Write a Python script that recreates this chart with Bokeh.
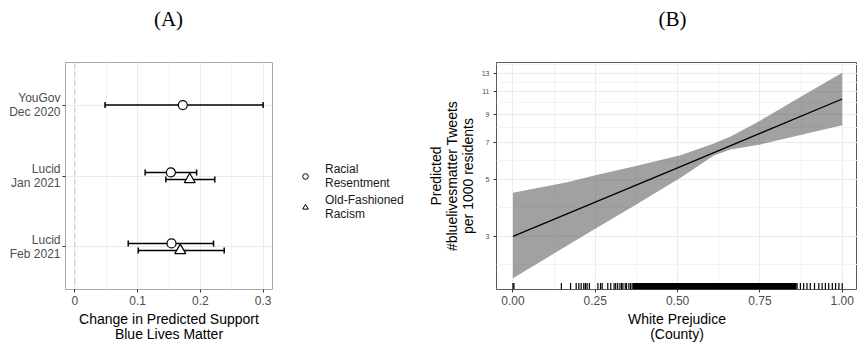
import math
from bokeh.plotting import figure
from bokeh.layouts import row, column
from bokeh.models import (ColumnDataSource, FixedTicker, Whisker, TeeHead, Span,
                          Legend, LegendItem, Label, Range1d)
from bokeh.embed import file_html
from bokeh.resources import INLINE

# ---------------- Panel A data ----------------
surveys = ["YouGov\nDec 2020", "Lucid\nJan 2021", "Lucid\nFeb 2021"]
survey_pos = [3, 2, 1]
rr_survey = ["YouGov\nDec 2020", "Lucid\nJan 2021", "Lucid\nFeb 2021"]
rr_est = [0.172, 0.153, 0.154]
rr_lo = [0.048, 0.112, 0.085]
rr_hi = [0.300, 0.194, 0.221]
ofr_survey = ["Lucid\nJan 2021", "Lucid\nFeb 2021"]
ofr_est = [0.183, 0.168]
ofr_lo = [0.145, 0.101]
ofr_hi = [0.223, 0.238]
a_xticks = [0.0, 0.1, 0.2, 0.3]
a_xminor = [0.05, 0.15, 0.25]

# ---------------- Panel B data ----------------
fit_x = [0.0, 0.25, 0.5, 0.75, 1.0]
fit_y = [3.0, 4.08, 5.55, 7.56, 10.3]
band_x = [0.0, 0.165, 0.25, 0.367, 0.509, 0.61, 0.661, 0.752, 0.873, 1.0]
band_hi = [4.44, 4.88, 5.19, 5.62, 6.21, 6.9, 7.36, 8.5, 10.48, 13.05]
band_lo = [2.06, 2.76, 3.21, 3.94, 5.08, 6.2, 6.55, 6.85, 7.45, 8.13]
b_yticks = [3, 5, 7, 9, 11, 13]
b_yminor = [2.32, 3.87, 5.92, 7.94, 9.95, 11.96, 14.1]
b_xticks = [0.0, 0.25, 0.5, 0.75, 1.0]
b_xminor = [0.125, 0.375, 0.625, 0.875]
rug_sparse = [0.0, 0.003, 0.147, 0.175, 0.192, 0.2, 0.207, 0.215, 0.22, 0.225, 0.232,
              0.258, 0.266, 0.271, 0.288, 0.297, 0.307, 0.312, 0.318, 0.325, 0.33,
              0.334, 0.341, 0.345, 0.352, 0.357, 0.362, 0.366,
              0.863, 0.873, 0.883, 0.893, 0.903, 0.916, 0.929, 0.939, 0.949, 0.959,
              0.97, 0.98, 0.99, 1.0]
rug_dense = [0.370, 0.374, 0.377, 0.381, 0.385, 0.389, 0.392, 0.396, 0.400, 0.404, 0.407,
             0.411, 0.415, 0.419, 0.422, 0.426, 0.430, 0.434, 0.437, 0.441, 0.445, 0.449,
             0.452, 0.456, 0.460, 0.464, 0.467, 0.471, 0.475, 0.479, 0.482, 0.486, 0.490,
             0.494, 0.497, 0.501, 0.505, 0.509, 0.512, 0.516, 0.520, 0.524, 0.527, 0.531,
             0.535, 0.539, 0.542, 0.546, 0.550, 0.554, 0.557, 0.561, 0.565, 0.569, 0.572,
             0.576, 0.580, 0.584, 0.587, 0.591, 0.595, 0.599, 0.602, 0.606, 0.610, 0.614,
             0.617, 0.621, 0.625, 0.629, 0.632, 0.636, 0.640, 0.644, 0.647, 0.651, 0.655,
             0.659, 0.662, 0.666, 0.670, 0.674, 0.677, 0.681, 0.685, 0.689, 0.692, 0.696,
             0.700, 0.704, 0.707, 0.711, 0.715, 0.719, 0.722, 0.726, 0.730, 0.734, 0.737,
             0.741, 0.745, 0.749, 0.752, 0.756, 0.760, 0.764, 0.767, 0.771, 0.775, 0.779,
             0.782, 0.786, 0.790, 0.794, 0.797, 0.801, 0.805, 0.809, 0.812, 0.816, 0.820,
             0.824, 0.827, 0.831, 0.835, 0.839, 0.842, 0.846, 0.850, 0.854, 0.858]
panel_titles = ["(A)", "(B)"]
legend_labels = ["Racial\nResentment", "Old-Fashioned\nRacism"]

FONT = "Liberation Sans"
TICK_COL = "#4D4D4D"
HEAD_H = 36
H = 310
TOP = 26
BOTTOM = 57
NAN = float("nan")


def style_axis(ax, tick_size):
    ax.axis_line_color = None
    ax.major_tick_line_color = "#333333"
    ax.major_tick_in = 0
    ax.major_tick_out = 3
    ax.minor_tick_line_color = None
    ax.major_label_text_font = FONT
    ax.major_label_text_font_size = tick_size
    ax.major_label_text_color = TICK_COL
    ax.major_label_standoff = 2
    ax.axis_label_text_font = FONT
    ax.axis_label_text_font_size = "14px"
    ax.axis_label_text_font_style = "normal"
    ax.axis_label_text_color = "#000000"
    ax.axis_label_text_line_height = 0.95
    ax.axis_label_standoff = 3


def blank(width, height):
    f = figure(width=width, height=height, output_backend="svg", toolbar_location=None,
               x_range=Range1d(0, width), y_range=Range1d(0, height),
               x_axis_location=None, y_axis_location=None,
               min_border=0, min_border_left=0, min_border_right=0,
               min_border_top=0, min_border_bottom=0)
    f.outline_line_color = None
    f.xgrid.visible = False
    f.ygrid.visible = False
    return f


# ================= Header with panel titles =================
head = blank(857, HEAD_H)
for txt, cx in zip(panel_titles, [168, 672]):
    head.add_layout(Label(x=cx, y=HEAD_H / 2, text=txt, text_align="center",
                          text_baseline="middle", text_font="Liberation Serif",
                          text_font_size="21px", text_color="black"))

# ================= Panel A =================
pos = dict(zip(surveys, survey_pos))
dodge = 0.05
rr_y = [pos[s] + (dodge if s in ofr_survey else 0) for s in rr_survey]
ofr_y = [pos[s] - dodge for s in ofr_survey]

fA = figure(width=280, height=H, output_backend="svg", toolbar_location=None,
            x_range=Range1d(-0.015, 0.315), y_range=Range1d(0.4, 3.6),
            min_border_left=65, min_border_right=8, min_border_top=TOP,
            min_border_bottom=BOTTOM)
fA.outline_line_color = "#A6A6A6"
fA.xaxis.ticker = FixedTicker(ticks=a_xticks, minor_ticks=a_xminor)
fA.yaxis.ticker = FixedTicker(ticks=survey_pos)
fA.yaxis.major_label_overrides = {p: s for s, p in zip(surveys, survey_pos)}
fA.xgrid.grid_line_color = "#EBEBEB"
fA.xgrid.minor_grid_line_color = "#F3F3F3"
fA.ygrid.grid_line_color = "#EBEBEB"
style_axis(fA.xaxis[0], "12px")
style_axis(fA.yaxis[0], "12px")
fA.yaxis.major_label_text_line_height = 0.95
fA.xaxis.axis_label = "Change in Predicted Support\nBlue Lives Matter"

fA.add_layout(Span(location=0, dimension="height", line_color="#C4C4C4",
                   line_dash="5 4", line_width=1))

src_rr = ColumnDataSource(dict(y=rr_y, est=rr_est, lo=rr_lo, hi=rr_hi))
src_ofr = ColumnDataSource(dict(y=ofr_y, est=ofr_est, lo=ofr_lo, hi=ofr_hi))
for src in (src_rr, src_ofr):
    w = Whisker(source=src, base="y", lower="lo", upper="hi", dimension="width",
                line_color="black", line_width=1.5,
                lower_head=TeeHead(size=6, line_width=1.5, line_color="black"),
                upper_head=TeeHead(size=6, line_width=1.5, line_color="black"))
    fA.add_layout(w)
fA.scatter("est", "y", source=src_rr, marker="circle", size=9,
           fill_color="white", line_color="black", line_width=1.2)
fA.scatter("est", "y", source=src_ofr, marker="triangle", size=11,
           fill_color="white", line_color="black", line_width=1.2)

# ================= Legend (between panels) =================
fL = blank(128, H)
k_rr = fL.scatter(x=[NAN], y=[NAN], marker="circle", size=9, fill_color="white",
                  line_color="black", line_width=1.0)
k_ofr = fL.scatter(x=[NAN], y=[NAN], marker="triangle", size=11, fill_color="white",
                   line_color="black", line_width=1.0)
legend = Legend(items=[LegendItem(label=legend_labels[0], renderers=[k_rr]),
                       LegendItem(label=legend_labels[1], renderers=[k_ofr])],
                location=(18, 68), orientation="vertical")
legend.border_line_color = None
legend.background_fill_alpha = 0
legend.label_text_font = FONT
legend.label_text_font_size = "12px"
legend.label_text_color = "#1A1A1A"
legend.label_text_line_height = 1.0
legend.glyph_width = 14
legend.glyph_height = 14
legend.label_standoff = 13
legend.spacing = 3
legend.padding = 0
legend.margin = 0
fL.add_layout(legend)

# ================= Panel B =================
ylo, yhi = 1.86, 14.3
fB = figure(width=449, height=H, output_backend="svg", toolbar_location=None,
            y_axis_type="log", x_range=Range1d(-0.05, 1.0465), y_range=Range1d(ylo, yhi),
            min_border_left=88, min_border_right=0, min_border_top=TOP,
            min_border_bottom=BOTTOM)
fB.outline_line_color = "#5A5A5A"
fB.xaxis.ticker = FixedTicker(ticks=b_xticks, minor_ticks=b_xminor)
fB.yaxis.ticker = FixedTicker(ticks=b_yticks, minor_ticks=b_yminor)
fB.yaxis.major_label_overrides = {t: str(t) for t in b_yticks}
fB.xaxis.major_label_overrides = {0.0: "0.00", 0.25: "0.25", 0.5: "0.50", 0.75: "0.75", 1.0: "1.00"}
fB.xgrid.grid_line_color = "#EBEBEB"
fB.xgrid.minor_grid_line_color = "#F3F3F3"
fB.ygrid.grid_line_color = "#EBEBEB"
fB.ygrid.minor_grid_line_color = "#F3F3F3"
style_axis(fB.xaxis[0], "12px")
style_axis(fB.yaxis[0], "7px")
fB.yaxis.major_label_standoff = 3
fB.xaxis.axis_label = "White Prejudice\n(County)"
fB.yaxis.axis_label = "Predicted\n#bluelivesmatter Tweets\nper 1000 residents"
fB.yaxis.axis_label_text_line_height = 1.0
fB.yaxis.axis_label_standoff = 3

fB.varea(x=band_x, y1=band_lo, y2=band_hi, fill_color="#444444", fill_alpha=0.5)
fB.line(fit_x, fit_y, line_color="black", line_width=1.3)

frame_h = H - TOP - BOTTOM
rug_top = ylo * math.exp(6.5 * math.log(yhi / ylo) / frame_h)
fB.segment(x0=rug_sparse, y0=[ylo] * len(rug_sparse), x1=rug_sparse,
           y1=[rug_top] * len(rug_sparse), line_color="black", line_width=1.2)
fB.segment(x0=rug_dense, y0=[ylo] * len(rug_dense), x1=rug_dense,
           y1=[rug_top] * len(rug_dense), line_color="black", line_width=2.2)

layout = column(head, row(fA, fL, fB, spacing=0), spacing=0)
open("out.html", "w").write(file_html(layout, INLINE))
